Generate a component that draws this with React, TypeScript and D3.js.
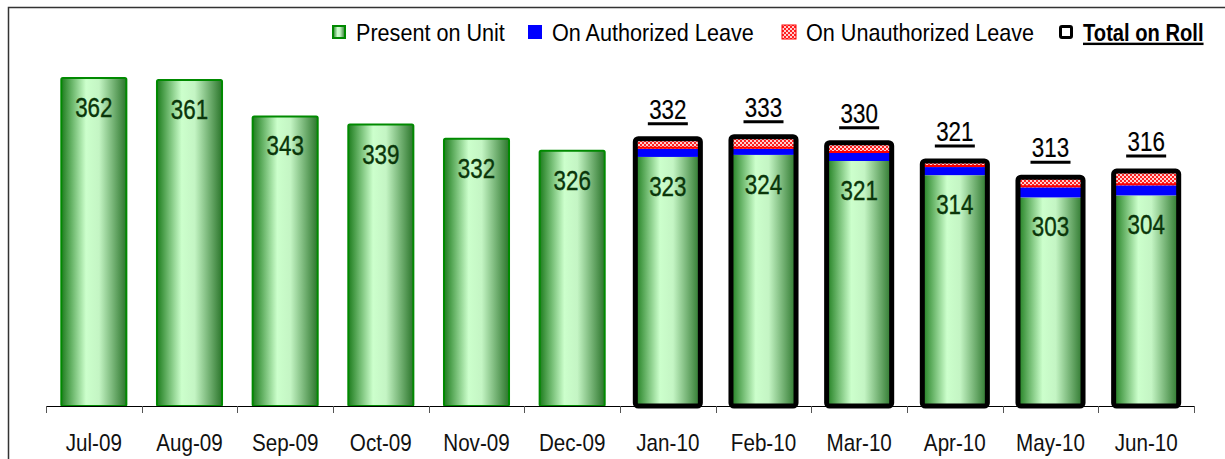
import React, { useEffect, useRef } from 'react';
import * as d3 from 'd3';

const months = ['Jul-09', 'Aug-09', 'Sep-09', 'Oct-09', 'Nov-09', 'Dec-09', 'Jan-10', 'Feb-10', 'Mar-10', 'Apr-10', 'May-10', 'Jun-10'];
const presentOnUnit = [362, 361, 343, 339, 332, 326, 323, 324, 321, 314, 303, 304];
const authorizedLeave = [null, null, null, null, null, null, 4, 3, 4, 4, 5, 5];
const unauthorizedLeave = [null, null, null, null, null, null, 5, 6, 5, 3, 5, 7];
const totalOnRoll = [null, null, null, null, null, null, 332, 333, 330, 321, 313, 316];
const legendLabels = ['Present on Unit', 'On Authorized Leave', 'On Unauthorized Leave', 'Total on Roll'];

const W = 1225;
const H = 459;

const App = () => {
  const svgRef = useRef(null);

  useEffect(() => {
    const svg = d3.select(svgRef.current);
    svg.selectAll('*').remove();

    const font = '"Liberation Sans", Arial, sans-serif';
    // squeeze Liberation Sans into an Arial Narrow look
    const ntext = (parent, tx, ty, str, size, squeeze, anchor = 'middle') =>
      parent.append('text')
        .attr('transform', `translate(${tx},${ty}) scale(${squeeze},1)`)
        .attr('text-anchor', anchor)
        .style('font-family', font)
        .style('font-size', size + 'px')
        .text(str);

    const margin = { left: 46, right: 31, top: 1, bottom: 53 };
    const x = d3.scaleBand()
      .domain(months)
      .range([margin.left, W - margin.right])
      .paddingInner(0.32)
      .paddingOuter(0.16);
    const y = d3.scaleLinear().domain([200, 400]).range([H - margin.bottom, margin.top]);
    const base = y(200);

    const defs = svg.append('defs');
    const grad = defs.append('linearGradient').attr('id', 'greenGrad')
      .attr('x1', '0%').attr('x2', '100%').attr('y1', '0%').attr('y2', '0%');
    [['0%', '#1e7d1e'], ['38%', '#ccffcc'], ['58%', '#c4f5c4'], ['100%', '#2c762c']].forEach(([o, c]) => {
      grad.append('stop').attr('offset', o).attr('stop-color', c);
    });
    const pat = defs.append('pattern').attr('id', 'redCheck')
      .attr('patternUnits', 'userSpaceOnUse').attr('width', 4).attr('height', 4);
    pat.append('rect').attr('width', 4).attr('height', 4).attr('fill', '#ffd0d0');
    pat.append('rect').attr('width', 2).attr('height', 2).attr('fill', '#ff2020');
    pat.append('rect').attr('x', 2).attr('y', 2).attr('width', 2).attr('height', 2).attr('fill', '#ff2020');

    // frame
    svg.append('rect')
      .attr('x', 8.5).attr('y', 7.5).attr('width', 1400).attr('height', 600)
      .attr('fill', 'white').attr('stroke', '#333').attr('stroke-width', 1.5);

    months.forEach((m, i) => {
      const bx = x(m);
      const bw = x.bandwidth();
      const stacked = totalOnRoll[i] != null;
      const g = svg.append('g');

      g.append('rect')
        .attr('x', bx).attr('y', y(presentOnUnit[i]))
        .attr('width', bw).attr('height', base - y(presentOnUnit[i]))
        .attr('fill', 'url(#greenGrad)')
        .attr('stroke', stacked ? 'none' : '#008a00')
        .attr('stroke-width', 2).attr('rx', 1.5);

      if (stacked) {
        const a = presentOnUnit[i] + authorizedLeave[i];
        g.append('rect')
          .attr('x', bx).attr('y', y(a))
          .attr('width', bw).attr('height', y(presentOnUnit[i]) - y(a))
          .attr('fill', '#0000ff');
        const t = a + unauthorizedLeave[i];
        g.append('rect')
          .attr('x', bx).attr('y', y(t))
          .attr('width', bw).attr('height', y(a) - y(t))
          .attr('fill', 'url(#redCheck)');
        g.append('line')
          .attr('x1', bx).attr('x2', bx + bw)
          .attr('y1', y(a) - 1).attr('y2', y(a) - 1)
          .attr('stroke', '#ff0000').attr('stroke-width', 2);
        g.append('rect')
          .attr('x', bx).attr('y', y(totalOnRoll[i]))
          .attr('width', bw).attr('height', base - y(totalOnRoll[i]))
          .attr('fill', 'none').attr('stroke', '#000').attr('stroke-width', 5).attr('rx', 3);

        const ty = y(totalOnRoll[i]) - 20;
        ntext(g, bx + bw / 2, ty, totalOnRoll[i], 28, 0.8)
          .style('fill', '#000').style('stroke', '#000').style('stroke-width', 0.2);
        g.append('line')
          .attr('x1', bx + bw / 2 - 20).attr('x2', bx + bw / 2 + 20)
          .attr('y1', ty + 5).attr('y2', ty + 5)
          .attr('stroke', '#000').attr('stroke-width', 3);
      }

      ntext(g, bx + bw / 2, y(presentOnUnit[i]) + 39, presentOnUnit[i], 28, 0.8)
        .style('fill', '#0a360a').style('stroke', '#0a360a').style('stroke-width', 0.4);
    });

    // x axis
    const step = x.step();
    svg.append('line')
      .attr('x1', margin.left).attr('x2', W - margin.right)
      .attr('y1', base + 0.5).attr('y2', base + 0.5)
      .attr('stroke', '#000').attr('stroke-width', 1);
    d3.range(months.length + 1).forEach(i => {
      const tx = Math.round(margin.left + i * step) + 0.5;
      svg.append('line')
        .attr('x1', tx).attr('x2', tx).attr('y1', base).attr('y2', base + 7)
        .attr('stroke', '#555').attr('stroke-width', 1);
    });
    months.forEach(m => {
      ntext(svg, x(m) + x.bandwidth() / 2, base + 45, m, 24, 0.86).style('fill', '#111');
    });

    // legend
    const lg = svg.append('g');
    const swatchX = [332, 528, 782, 1059];
    const ly = 25;
    lg.append('rect').attr('x', swatchX[0] + 1).attr('y', ly + 1).attr('width', 12).attr('height', 12)
      .attr('fill', 'url(#greenGrad)').attr('stroke', '#008a00').attr('stroke-width', 2);
    lg.append('rect').attr('x', swatchX[1]).attr('y', ly).attr('width', 14).attr('height', 14)
      .attr('fill', '#0000ff');
    lg.append('rect').attr('x', swatchX[2]).attr('y', ly).attr('width', 14).attr('height', 14)
      .attr('fill', 'url(#redCheck)').attr('stroke', '#ff0000').attr('stroke-width', 1);
    lg.append('rect').attr('x', swatchX[3] + 1.5).attr('y', ly + 1.5).attr('width', 11).attr('height', 11)
      .attr('fill', 'white').attr('stroke', '#000').attr('stroke-width', 3).attr('rx', 1.5);
    legendLabels.forEach((l, i) => {
      ntext(lg, swatchX[i] + 24, ly + 15.5, l, 24, i === 3 ? 0.84 : 0.9, 'start')
        .style('fill', '#000')
        .style('font-weight', i === 3 ? 'bold' : 'normal')
        .style('text-decoration', i === 3 ? 'underline' : 'none');
    });
  }, []);

  return (
    <div style={{ position: 'absolute', left: 0, top: 0 }}>
      <svg ref={svgRef} width={W} height={H} style={{ display: 'block' }}></svg>
    </div>
  );
};

export default App;
